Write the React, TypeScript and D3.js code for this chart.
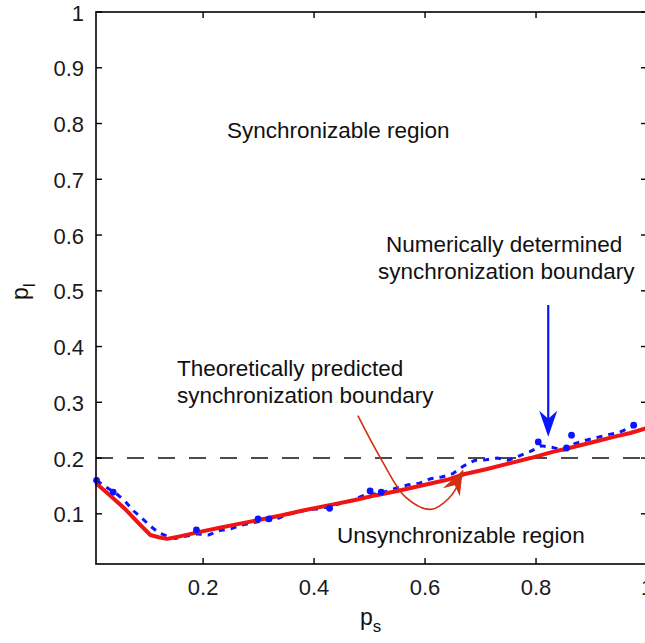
import React from 'react';
import * as d3 from 'd3';

// values (p_s on x, p_l on y)
const xTicks = [0.2, 0.4, 0.6, 0.8, 1];
const yTicks = [0.1, 0.2, 0.3, 0.4, 0.5, 0.6, 0.7, 0.8, 0.9, 1];

// theoretically predicted boundary (red)
const theoryX = [0.007, 0.03, 0.06, 0.085, 0.105, 0.12, 0.135, 0.16, 0.196, 0.23, 0.26, 0.3, 0.34, 0.38, 0.43, 0.47, 0.51, 0.55, 0.6, 0.64, 0.67, 0.71, 0.75, 0.79, 0.83, 0.86, 0.9, 0.94, 0.97, 1.0];
const theoryY = [0.155, 0.135, 0.108, 0.082, 0.062, 0.058, 0.055, 0.06, 0.068, 0.075, 0.081, 0.089, 0.097, 0.106, 0.116, 0.124, 0.133, 0.141, 0.152, 0.161, 0.171, 0.18, 0.19, 0.2, 0.211, 0.218, 0.228, 0.238, 0.245, 0.254];

// numerically determined boundary (blue dash-dot)
const numX = [0.008, 0.025, 0.045, 0.06, 0.075, 0.09, 0.105, 0.12, 0.135, 0.15, 0.17, 0.19, 0.21, 0.23, 0.25, 0.27, 0.29, 0.31, 0.33, 0.35, 0.37, 0.39, 0.41, 0.43, 0.45, 0.47, 0.49, 0.51, 0.53, 0.55, 0.57, 0.59, 0.61, 0.63, 0.65, 0.67, 0.69, 0.71, 0.73, 0.75, 0.77, 0.79, 0.81, 0.83, 0.85, 0.87, 0.89, 0.91, 0.93, 0.95, 0.97, 0.99];
const numY = [0.16, 0.148, 0.135, 0.122, 0.105, 0.092, 0.078, 0.066, 0.06, 0.056, 0.06, 0.064, 0.062, 0.07, 0.073, 0.08, 0.084, 0.088, 0.09, 0.098, 0.103, 0.108, 0.109, 0.114, 0.119, 0.125, 0.133, 0.136, 0.14, 0.147, 0.152, 0.155, 0.163, 0.166, 0.172, 0.186, 0.196, 0.197, 0.2, 0.196, 0.204, 0.212, 0.222, 0.219, 0.214, 0.226, 0.232, 0.237, 0.242, 0.246, 0.255, 0.262];

// isolated dots of the numerical boundary
const dotX = [0.008, 0.038, 0.188, 0.299, 0.319, 0.428, 0.501, 0.521, 0.804, 0.855, 0.864, 0.976];
const dotY = [0.16, 0.139, 0.071, 0.091, 0.091, 0.11, 0.141, 0.139, 0.229, 0.218, 0.241, 0.259];

const threshold = 0.2;

const W = 645;
const H = 643;
const FONT = '"Liberation Sans", Arial, Helvetica, sans-serif';

export default function App() {
  const x = d3.scaleLinear().domain([0.007, 1]).range([96, 647]);
  const y = d3.scaleLinear().domain([0.01, 1]).range([564, 12]);
  const [x0, x1] = x.range();
  const [y0, y1] = y.range();

  const theoryPath = d3.line<number>()
    .x(d => x(theoryX[d]))
    .y(d => y(theoryY[d]))(d3.range(theoryX.length));
  const numPath = d3.line<number>()
    .x(d => x(numX[d]))
    .y(d => y(numY[d]))(d3.range(numX.length));

  // annotation arrows, in data coordinates
  const blueArrowX = 0.822;
  const blueTop = y.invert(305);
  const blueTip = 0.238;

  const redCurve: [number, number][] = [
    [0.479, 0.276], [0.522, 0.196], [0.565, 0.13], [0.61, 0.108], [0.643, 0.128], [0.664, 0.162],
  ];
  const redTip: [number, number] = [0.668, 0.178];
  const redPath = d3.line<[number, number]>()
    .x(d => x(d[0]))
    .y(d => y(d[1]))
    .curve(d3.curveCatmullRom)([...redCurve, redTip]);

  const bx = x(blueArrowX);
  const by = y(blueTip);
  const tx = x(redTip[0]);
  const ty = y(redTip[1]);

  return (
    <div style={{ position: 'fixed', left: 0, top: 0 }}>
      <svg width={W} height={H} style={{ display: 'block', background: '#fff' }} fontFamily={FONT}>
        {/* threshold */}
        <line x1={x0} x2={x1} y1={y(threshold)} y2={y(threshold)} stroke="#111" strokeWidth={1.6} strokeDasharray="17 14" />

        {/* numerical boundary */}
        <path d={numPath ?? ''} fill="none" stroke="#0a14ff" strokeWidth={3} strokeDasharray="6 6" />

        {/* theoretical boundary */}
        <path d={theoryPath ?? ''} fill="none" stroke="#f01414" strokeWidth={4} strokeLinejoin="round" />

        {dotX.map((d, i) => (
          <circle key={i} cx={x(d)} cy={y(dotY[i])} r={3.4} fill="#0a14ff" />
        ))}

        {/* frame */}
        <rect x={x0} y={y1} width={x1 - x0} height={y0 - y1} fill="none" stroke="#000" strokeWidth={1.6} />

        {yTicks.map(t => (
          <g key={'y' + t}>
            <line x1={x0} x2={x0 + 6} y1={y(t)} y2={y(t)} stroke="#000" strokeWidth={1.4} />
            <line x1={x1} x2={x1 - 6} y1={y(t)} y2={y(t)} stroke="#000" strokeWidth={1.4} />
            <text x={84} y={y(t) + 8.5} textAnchor="end" fontSize={22} fill="#1a1a1a">{String(t)}</text>
          </g>
        ))}
        {xTicks.map(t => (
          <g key={'x' + t}>
            <line x1={x(t)} x2={x(t)} y1={y0} y2={y0 - 6} stroke="#000" strokeWidth={1.4} />
            <line x1={x(t)} x2={x(t)} y1={y1} y2={y1 + 6} stroke="#000" strokeWidth={1.4} />
            <text x={x(t)} y={595} textAnchor="middle" fontSize={22} fill="#1a1a1a">{String(t)}</text>
          </g>
        ))}

        {/* axis labels */}
        <text x={360} y={625} fontSize={23} fill="#111">p<tspan fontSize={17} dy={7}>s</tspan></text>
        <text transform="translate(28,300) rotate(-90)" fontSize={23} fill="#111">p<tspan fontSize={17} dy={7}>l</tspan></text>

        {/* annotations */}
        <g fontSize={22.5} fill="#111">
          <text x={227} y={138}>Synchronizable region</text>
          <text x={386} y={252}>Numerically determined</text>
          <text x={378} y={279}>synchronization boundary</text>
          <text x={177} y={376}>Theoretically predicted</text>
          <text x={177} y={403}>synchronization boundary</text>
          <text x={337} y={543}>Unsynchronizable region</text>
        </g>

        {/* blue arrow */}
        <line x1={bx} x2={bx} y1={y(blueTop)} y2={by - 12} stroke="#0a14ff" strokeWidth={2.2} />
        <path d={`M${bx},${by} L${bx - 9},${by - 26} L${bx},${by - 18} L${bx + 9},${by - 26} Z`} fill="#0a14ff" />

        {/* red curved arrow */}
        <path d={redPath ?? ''} fill="none" stroke="#d2300f" strokeWidth={1.6} />
        <path d={`M${tx},${ty} L${tx - 20},${ty + 18} L${tx - 8},${ty + 15} L${tx - 3},${ty + 26} Z`} fill="#d2300f" />
      </svg>
    </div>
  );
}
